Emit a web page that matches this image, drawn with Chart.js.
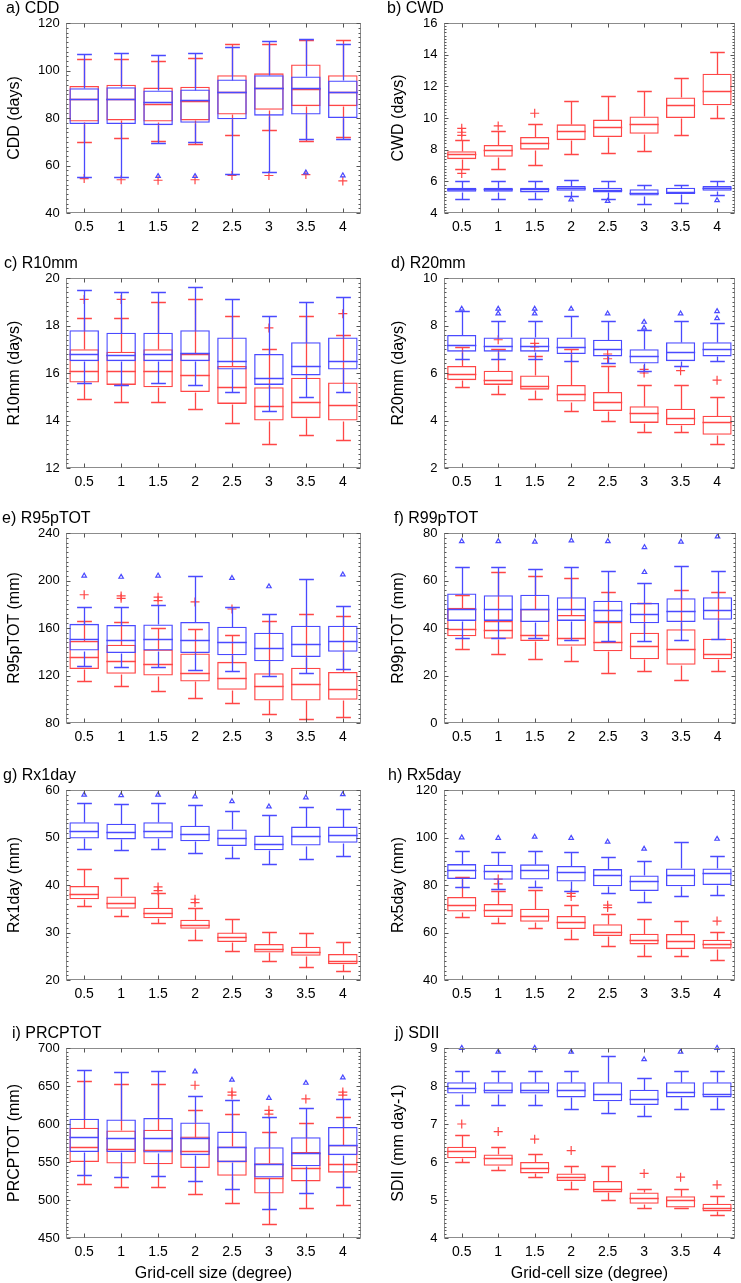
<!DOCTYPE html>
<html>
<head>
<meta charset="utf-8">
<script src="https://cdn.jsdelivr.net/npm/chart.js@4.4.1/dist/chart.umd.min.js"></script>
<style>
  body { margin: 0; background: #fff; width: 741px; height: 1283px; position: relative; overflow: hidden; }
  canvas { position: absolute; }
</style>
</head>
<body>
<script>
const categories = ['0.5', '1', '1.5', '2', '2.5', '3', '3.5', '4'];

// each box: [lower whisker, q1, median, q3, upper whisker]
const cddBlue = [[55.3,77.5,88,92.5,106.8],[55.3,77.5,88,93,107.2],[69.5,77,86.8,91.6,106.5],[69.8,78,87.5,92,107.5],[56.5,79.5,90.8,96.2,110],[57.3,81,92.8,98,112.3],[71,81.5,92.5,97.5,113.2],[71,80,91,95.8,111.3]];
const cddRed = [[70,78.5,88,93.5,105],[71.5,79,88,94,105],[70.3,78.5,86,92.8,104],[69,79,87,93.2,105.2],[73,81.5,91,98,111],[75,83.5,92.5,98.8,111],[70.5,85,92.4,102.5,112.8],[72,85,91,98,112.8]];
const cddBlueOut = [[],[],[55.5],[55.5],[],[],[57],[55.8]];
const cddRedOut = [[54.5],[54],[53.8],[54],[55.8],[55.8],[56.2],[53.5]];

const cwdBlue = [[4.9,5.35,5.5,5.6,6.0],[4.9,5.35,5.5,5.6,6.0],[4.9,5.3,5.5,5.6,6.0],[5.05,5.4,5.55,5.7,6.1],[4.9,5.3,5.45,5.6,6.0],[4.6,5.1,5.25,5.5,5.8],[4.65,5.2,5.35,5.6,5.8],[5.15,5.4,5.55,5.7,6.0]];
const cwdRed = [[6.8,7.4,7.7,7.9,8.6],[6.8,7.55,8.0,8.3,9.2],[7.05,8.0,8.45,8.8,9.6],[7.7,8.6,9.2,9.6,11.1],[7.8,8.8,9.45,9.9,11.4],[7.9,9.0,9.65,10.1,11.7],[8.9,10.0,10.8,11.3,12.5],[10.0,10.8,11.7,12.8,14.2]];
const cwdBlueOut = [[],[],[],[4.85],[4.75],[],[],[4.8]];
const cwdRedOut = [[6.5,8.9,9.1,9.35],[9.5],[10.3],[],[],[],[],[]];

const r10Blue = [[15.6,16.5,16.8,17.8,19.5],[15.5,16.5,16.75,17.7,19.4],[15.6,16.5,16.8,17.7,19.4],[15.5,16.5,16.85,17.8,19.6],[15.2,16.15,16.5,17.5,19.1],[14.4,15.5,15.8,16.8,18.4],[15.0,15.9,16.3,17.3,19.0],[15.2,16.15,16.5,17.5,19.2]];
const r10Red = [[14.9,15.6,16.1,17.0,18.3],[14.8,15.5,16.1,16.9,18.3],[14.8,15.4,16.1,17.0,19.0],[14.5,15.2,15.9,16.8,19.1],[13.9,14.7,15.4,16.3,18.4],[13.0,14.0,14.6,15.4,17.0],[13.4,14.1,14.8,15.8,18.4],[13.2,14.0,14.65,15.6,17.6]];
const r10BlueOut = [[],[],[],[],[],[],[],[]];
const r10RedOut = [[19.1],[19.1],[],[],[],[17.9],[],[18.5]];

const r20Blue = [[6.6,6.9,7.2,7.6,8.6],[6.6,6.9,7.15,7.5,8.2],[6.6,6.9,7.15,7.5,8.2],[6.5,6.8,7.1,7.5,8.4],[6.4,6.7,7.0,7.4,8.2],[6.1,6.4,6.7,7.0,7.8],[6.3,6.5,6.9,7.3,8.2],[6.5,6.7,7.0,7.3,8.1]];
const r20Red = [[5.4,5.7,5.95,6.3,7.1],[5.1,5.5,5.7,6.1,7.0],[4.9,5.3,5.45,5.9,6.7],[4.4,4.8,5.1,5.5,7.0],[4.0,4.4,4.8,5.2,6.3],[3.5,3.9,4.3,4.6,5.5],[3.5,3.8,4.1,4.5,5.5],[3.0,3.4,3.95,4.2,5.0]];
const r20BlueOut = [[8.7],[8.5,8.7],[8.5,8.7],[8.7],[8.5],[7.9,8.15],[8.5],[8.3,8.6]];
const r20RedOut = [[],[7.4],[7.1,7.25],[],[6.6,6.8],[6.0,6.15],[6.1],[5.7]];

const r95Blue = [[128,141,151,163.5,178],[127,139,150,162.5,178],[127,141,151,163,179],[125,139,149.5,165,204],[124,137,148.5,161,178],[120,132,143,156,172],[122.5,135.5,146.5,162,201],[125.5,140,149,162,178.5]];
const r95Red = [[115,125.5,136,149,166],[111,121.5,132,146,165],[107,120,130,142,160],[101,115,122,138.5,159],[97,108,118,131.5,154],[88,99,111,122,166],[83,99,113,126.5,172],[85,99.5,109,123,170]];
const r95BlueOut = [[204],[203],[204],[],[202],[195],[],[205]];
const r95RedOut = [[188],[185,187],[183,186],[182],[176],[],[],[]];

const r99Blue = [[36,43,48,54.5,65.5],[36,43,47.8,53.8,65.5],[36,42.5,48,54,65],[35,43,48,53,65.5],[34.5,42.5,47.5,51.5,64],[34.5,42,46,50.5,59],[35,42.5,47,52.5,66],[35.5,43.5,47.5,53,64]];
const r99Red = [[31,36.5,39.5,48.5,54],[29,35.5,39,43,63.5],[27,34.5,37,48,62],[26,32.5,36,45.5,61],[21,30.2,34,42.5,55],[22,26.8,32.5,38,50.5],[18,24.5,31,39.5,56],[22,26.8,29,35.5,55]];
const r99BlueOut = [[76.5],[76.5],[76.3],[76.8],[76.5],[63.5,74],[76.3],[78.5]];
const r99RedOut = [[],[],[],[],[],[],[],[]];

const rx1Blue = [[47.5,49.8,51.3,53.2,57.3],[47.3,49.6,51.1,52.9,57.1],[47.5,49.8,51.3,53.2,57.3],[46.7,49.2,50.8,52.5,56.8],[45.7,48.2,49.8,51.7,55.6],[44.5,47.3,48.6,50.4,54.8],[45.5,48.3,50.4,52.3,56.5],[46.2,48.9,50.5,52.3,56.1]];
const rx1Red = [[35.5,37,38.2,39.8,43.3],[33.4,35,36.3,37.6,41.5],[31.9,33,34.1,35.2,38.3],[28.5,30.8,31.5,32.7,35.2],[26.2,28,29,30,32.9],[24.1,25.8,26.6,27.6,30.2],[22.7,25.1,25.9,27,30],[22,23.3,24.1,25.5,27.9]];
const rx1BlueOut = [[59],[58.9],[59],[58.6],[57.6],[56.5],[58.4],[59.1]];
const rx1RedOut = [[],[],[38.8,39.6],[36.3,37.0],[],[],[],[]];

const rx5Blue = [[79.3,82.5,86.3,88.8,94.5],[78.5,82.2,86,88.5,94],[79,82.3,86.3,88.7,94.5],[77.5,81.5,85.3,88,94],[76.7,79.5,84,86.7,92],[73,77.5,81.6,84,90],[75.5,79.5,84.2,87,98.2],[76,80,85.2,87,92.3]];
const rx5Red = [[66.5,68.8,71.5,75,83.3],[63.8,66.5,69.5,72,77.5],[62,64.5,67,70,78],[57.4,61.5,64.5,67,71.5],[54.5,58.5,60.3,63.5,68],[50.3,55,56.7,59.5,65.7],[50.3,53,56.5,59.4,65],[48.5,53.2,55.3,57,60.3]];
const rx5BlueOut = [[100],[99.8],[100.3],[99.8],[98.2],[95.2],[],[99.4]];
const rx5RedOut = [[],[80.5,82.5],[],[75.2,76.5],[70.5,71.5],[],[],[64.8]];

const prcpBlue = [[533,563,583,607,671],[530,563,581,606,668],[531,562.5,582,608,670],[525,559,581,602,637],[515,550,570,590,631],[488,529.5,547.5,569.5,609],[509,544.5,562.5,582.5,621],[517,559,572,596,633]];
const prcpRed = [[521,550,570,595,657],[517,548,567.5,591.5,653],[517,547,566,592.5,653],[508,542,564,583.5,619],[496,532,551,570.5,613],[468,508.5,528.5,548.5,590],[490,524.5,542.5,563,601],[493.5,536,548,572.5,609]];
const prcpBlueOut = [[],[],[],[669],[658],[634],[654],[661]];
const prcpRedOut = [[],[],[],[651],[638,642],[613,618],[633],[638,642]];

const sdiiBlue = [[7.5,7.8,7.95,8.1,8.4],[7.5,7.8,7.9,8.1,8.4],[7.5,7.8,7.9,8.1,8.4],[7.4,7.7,7.9,8.1,8.4],[7.3,7.6,7.8,8.1,8.8],[7.2,7.5,7.65,7.9,8.2],[7.4,7.7,7.85,8.1,8.4],[7.4,7.7,7.8,8.1,8.4]];
const sdiiRed = [[6.0,6.1,6.3,6.4,6.7],[5.8,5.9,6.1,6.2,6.4],[5.6,5.7,5.85,6.0,6.2],[5.3,5.5,5.6,5.7,5.9],[5.0,5.2,5.3,5.5,5.9],[4.8,4.9,5.05,5.2,5.3],[4.8,4.8,5.0,5.1,5.3],[4.6,4.7,4.8,4.9,5.1]];
const sdiiBlueOut = [[9.0],[8.9],[9.0],[8.9],[],[8.7],[8.9],[9.0]];
const sdiiRedOut = [[7.0],[6.8],[6.6],[6.3],[],[5.7],[5.6],[5.4]];

const RED = '#ff4646';
const BLUE = '#4a4aff';
const LW = 1.3;
const FONT = "'Liberation Sans', Arial, sans-serif";

const panels = [
  { title: 'a) CDD', titleX: 6, yTitle: 'CDD (days)', min: 40, max: 120, step: 20, blue: cddBlue, red: cddRed, blueOut: cddBlueOut, redOut: cddRedOut },
  { title: 'b) CWD', titleX: 17, yTitle: 'CWD (days)', min: 4, max: 16, step: 2, blue: cwdBlue, red: cwdRed, blueOut: cwdBlueOut, redOut: cwdRedOut },
  { title: 'c) R10mm', titleX: 4, yTitle: 'R10mm (days)', min: 12, max: 20, step: 2, blue: r10Blue, red: r10Red, blueOut: r10BlueOut, redOut: r10RedOut },
  { title: 'd) R20mm', titleX: 21, yTitle: 'R20mm (days)', min: 2, max: 10, step: 2, blue: r20Blue, red: r20Red, blueOut: r20BlueOut, redOut: r20RedOut },
  { title: 'e) R95pTOT', titleX: 2, yTitle: 'R95pTOT (mm)', min: 80, max: 240, step: 40, blue: r95Blue, red: r95Red, blueOut: r95BlueOut, redOut: r95RedOut },
  { title: 'f) R99pTOT', titleX: 24, yTitle: 'R99pTOT (mm)', min: 0, max: 80, step: 20, blue: r99Blue, red: r99Red, blueOut: r99BlueOut, redOut: r99RedOut },
  { title: 'g) Rx1day', titleX: 3, yTitle: 'Rx1day (mm)', min: 20, max: 60, step: 10, blue: rx1Blue, red: rx1Red, blueOut: rx1BlueOut, redOut: rx1RedOut },
  { title: 'h) Rx5day', titleX: 18, yTitle: 'Rx5day (mm)', min: 40, max: 120, step: 20, blue: rx5Blue, red: rx5Red, blueOut: rx5BlueOut, redOut: rx5RedOut },
  { title: 'i) PRCPTOT', titleX: 12, yTitle: 'PRCPTOT (mm)', min: 450, max: 700, step: 50, blue: prcpBlue, red: prcpRed, blueOut: prcpBlueOut, redOut: prcpRedOut },
  { title: 'j) SDII', titleX: 25, yTitle: 'SDII (mm day-1)', min: 4, max: 9, step: 1, blue: sdiiBlue, red: sdiiRed, blueOut: sdiiBlueOut, redOut: sdiiRedOut }
];

const rowTops = [0, 255, 510, 767, 1025];
const PLOT_TOP = 23, PLOT_H = 190;

// whiskers, caps and median drawn right after each box dataset
const boxParts = {
  id: 'boxParts',
  afterDatasetDraw(chart, args) {
    const ds = chart.data.datasets[args.index];
    if (!ds.stats) return;
    const { ctx, scales: { y } } = chart;
    const py = v => Math.round(y.getPixelForValue(v)) + 0.5;
    ctx.save();
    ctx.strokeStyle = ds.borderColor;
    ctx.lineWidth = LW;
    ctx.beginPath();
    ds.stats.forEach((s, i) => {
      const bar = args.meta.data[i];
      const cx = Math.round(bar.x) + 0.5;
      const half = bar.width / 2;
      const cap = half * 0.5;
      ctx.moveTo(cx, py(s[3])); ctx.lineTo(cx, py(s[4]));
      ctx.moveTo(cx, py(s[1])); ctx.lineTo(cx, py(s[0]));
      ctx.moveTo(cx - cap, py(s[4])); ctx.lineTo(cx + cap, py(s[4]));
      ctx.moveTo(cx - cap, py(s[0])); ctx.lineTo(cx + cap, py(s[0]));
      ctx.moveTo(bar.x - half, py(s[2])); ctx.lineTo(bar.x + half, py(s[2]));
    });
    ctx.stroke();
    ctx.restore();
  }
};

// grey frame with inward ticks, plus the panel letter title
const frame = {
  id: 'frame',
  afterDraw(chart, args, opts) {
    const { ctx, chartArea: a, scales: { x, y } } = chart;
    ctx.save();
    ctx.strokeStyle = '#8c8c8c';
    ctx.lineWidth = 1;
    const l = Math.round(a.left) + 0.5, t = Math.round(a.top) + 0.5;
    const r = Math.round(a.right) - 0.5, b = Math.round(a.bottom) - 0.5;
    ctx.strokeRect(l, t, r - l, b - t);
    ctx.strokeStyle = '#555';
    ctx.beginPath();
    const step = y.options.ticks.stepSize;
    const n = Math.round((y.max - y.min) / step * 10);
    for (let k = 0; k <= n; k++) {
      const v = y.min + k * step / 10;
      const len = k % 10 === 0 ? 4 : 2;
      const p = Math.round(y.getPixelForValue(v)) + 0.5;
      ctx.moveTo(l, p); ctx.lineTo(l + len, p);
      ctx.moveTo(r, p); ctx.lineTo(r - len, p);
    }
    categories.forEach((c, i) => {
      const p = Math.round(x.getPixelForValue(i)) + 0.5;
      ctx.moveTo(p, t); ctx.lineTo(p, t + 4);
      ctx.moveTo(p, b); ctx.lineTo(p, b - 4);
    });
    ctx.stroke();
    ctx.fillStyle = '#000';
    ctx.font = '16px ' + FONT;
    ctx.textBaseline = 'middle';
    ctx.fillText(opts.title, opts.titleX, 9);
    ctx.restore();
  }
};

const toPoints = out => out.flatMap((vals, i) => vals.map(v => ({ x: categories[i], y: v })));

panels.forEach((p, k) => {
  const col = k % 2, row = Math.floor(k / 2);
  const last = row === 4;
  const W = col === 0 ? 370 : 371;
  const H = last ? 258 : 255;
  const L = col === 0 ? 65.7 : 73.5;
  const R = col === 0 ? 361.3 : 366.7;
  const xH = last ? H - PLOT_TOP - PLOT_H : 32;

  const canvas = document.createElement('canvas');
  canvas.width = W; canvas.height = H;
  canvas.style.left = (col === 0 ? 0 : 370) + 'px';
  canvas.style.top = rowTops[row] + 'px';
  document.body.appendChild(canvas);

  const boxSet = (stats, color) => ({
    type: 'bar',
    data: stats.map(s => [s[1], s[3]]),
    stats: stats,
    borderColor: color,
    backgroundColor: 'rgba(0,0,0,0)',
    borderWidth: LW,
    borderSkipped: false,
    barPercentage: 0.8,
    categoryPercentage: 1,
    grouped: false
  });

  new Chart(canvas, {
    type: 'bar',
    data: {
      labels: categories,
      datasets: [
        boxSet(p.blue, BLUE),
        boxSet(p.red, RED),
        { type: 'line', data: toPoints(p.blueOut), showLine: false, clip: false,
          pointStyle: 'triangle', pointRadius: 2.6, pointBorderWidth: 1.2,
          pointBorderColor: BLUE, pointBackgroundColor: 'rgba(0,0,0,0)' },
        { type: 'line', data: toPoints(p.redOut), showLine: false, clip: false,
          pointStyle: 'cross', pointRadius: 4.5, pointBorderWidth: 1.2,
          pointBorderColor: RED, pointBackgroundColor: 'rgba(0,0,0,0)' }
      ]
    },
    options: {
      responsive: false,
      animation: false,
      events: [],
      layout: { padding: { left: 0, top: PLOT_TOP, right: W - R, bottom: H - PLOT_TOP - PLOT_H - xH } },
      plugins: {
        legend: { display: false },
        tooltip: { enabled: false },
        frame: { title: p.title, titleX: p.titleX }
      },
      scales: {
        x: {
          type: 'category',
          offset: true,
          grid: { display: false, drawTicks: false },
          border: { display: false },
          ticks: { font: { family: FONT, size: 14 }, color: '#000', padding: 6, maxRotation: 0, autoSkip: false },
          title: { display: last, text: 'Grid-cell size (degree)', font: { family: FONT, size: 16 }, color: '#000', padding: { top: 0, bottom: 0 } },
          afterFit: s => { s.height = xH; }
        },
        y: {
          min: p.min,
          max: p.max,
          grid: { display: false, drawTicks: false },
          border: { display: false },
          ticks: { stepSize: p.step, font: { family: FONT, size: 13 }, color: '#000', padding: 6 },
          title: { display: true, text: p.yTitle, font: { family: FONT, size: 16 }, color: '#000', padding: { top: col === 0 ? 5.4 : 19.4, bottom: 0 } },
          afterFit: s => { s.width = L; }
        }
      }
    },
    plugins: [boxParts, frame]
  });
});
</script>
</body>
</html>
